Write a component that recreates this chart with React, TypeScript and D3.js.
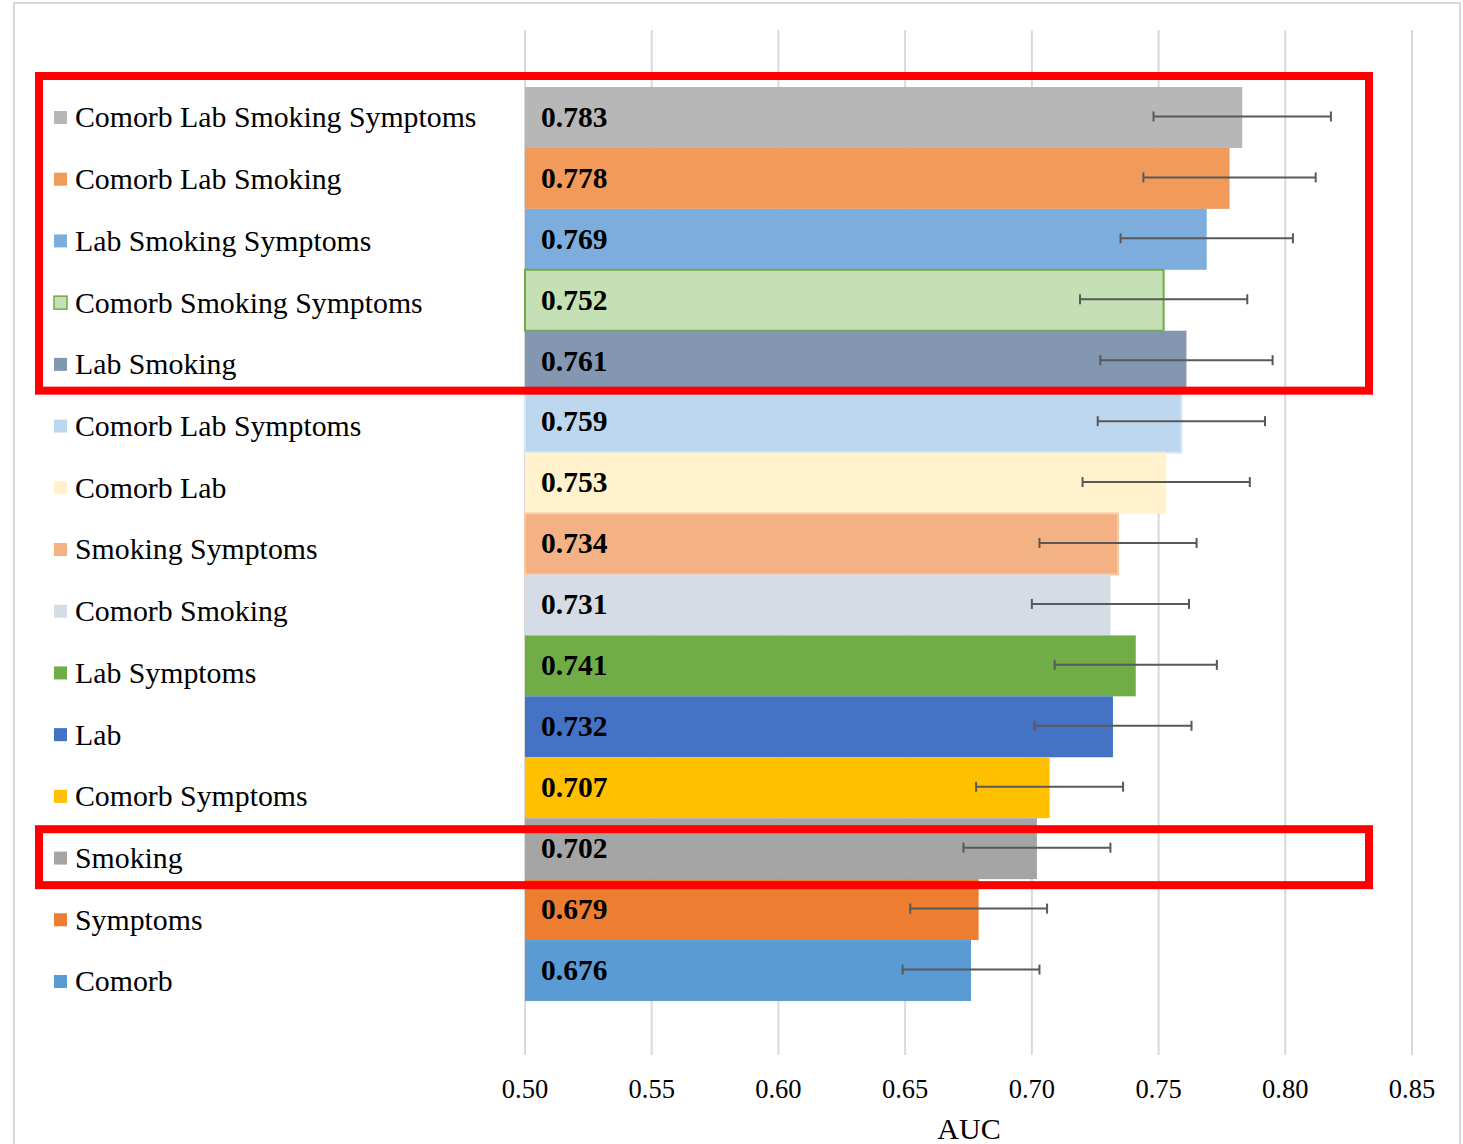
import { scaleBand, scaleLinear, scalePoint } from "d3";

const WIDTH = 1463;
const HEIGHT = 1144;

const models = [
  "Comorb Lab Smoking Symptoms",
  "Comorb Lab Smoking",
  "Lab Smoking Symptoms",
  "Comorb Smoking Symptoms",
  "Lab Smoking",
  "Comorb Lab Symptoms",
  "Comorb Lab",
  "Smoking Symptoms",
  "Comorb Smoking",
  "Lab Symptoms",
  "Lab",
  "Comorb Symptoms",
  "Smoking",
  "Symptoms",
  "Comorb",
];
const auc = [0.783, 0.778, 0.769, 0.752, 0.761, 0.759, 0.753, 0.734, 0.731, 0.741, 0.732, 0.707, 0.702, 0.679, 0.676];
const ciLow = [0.748, 0.744, 0.735, 0.719, 0.727, 0.726, 0.72, 0.703, 0.7, 0.709, 0.701, 0.678, 0.673, 0.652, 0.649];
const ciHigh = [0.818, 0.812, 0.803, 0.785, 0.795, 0.792, 0.786, 0.765, 0.762, 0.773, 0.763, 0.736, 0.731, 0.706, 0.703];
const fills = [
  "#b7b7b7", "#f19a5a", "#7caddc", "#c5e0b4", "#8497b0",
  "#bdd7ee", "#fff2cc", "#f4b183", "#d6dce5", "#70ad47",
  "#4472c4", "#ffc000", "#a5a5a5", "#ed7d31", "#5b9bd5",
];
const strokes = [
  "none", "none", "none", "#70ad47", "none",
  "#d6e6f5", "none", "#f8c9a7", "none", "none",
  "none", "none", "none", "none", "none",
];
const ticks = [0.5, 0.55, 0.6, 0.65, 0.7, 0.75, 0.8, 0.85];
const highlightGroups = [[0, 4], [12, 12]];

const FONT = "'Liberation Serif', 'Times New Roman', serif";

export default function App() {
  const x = scaleLinear().domain([0.5, 0.85]).range([525, 1412]);
  const y = scaleBand<number>()
    .domain(models.map((_, i) => i))
    .range([87, 1001])
    .padding(0);
  const bw = y.bandwidth();
  // legend entries are spaced a little wider than the bars
  const ly = scalePoint<number>()
    .domain(models.map((_, i) => i))
    .range([117, 981]);

  return (
    <svg
      width={WIDTH}
      height={HEIGHT}
      viewBox={`0 0 ${WIDTH} ${HEIGHT}`}
      style={{ position: "absolute", left: 0, top: 0, background: "#fff" }}
      fontFamily={FONT}
    >
      <rect x={14} y={3} width={1446} height={1160} fill="#fff" stroke="#d9d9d9" strokeWidth={2} />

      {ticks.map((t) => (
        <line key={t} x1={x(t)} x2={x(t)} y1={30} y2={1055} stroke="#d9d9d9" strokeWidth={2} />
      ))}

      {models.map((m, i) => (
        <g key={m}>
          <rect
            x={x(0.5)}
            y={y(i)!}
            width={x(auc[i]) - x(0.5)}
            height={bw}
            fill={fills[i]}
            stroke={strokes[i]}
            strokeWidth={strokes[i] === "none" ? 0 : 2}
          />
          <text
            x={541}
            y={y(i)! + bw / 2 - 1}
            dy="0.35em"
            fontSize={29.5}
            fontWeight="bold"
            fill="#000"
          >
            {auc[i].toFixed(3)}
          </text>
          <g stroke="#595959" strokeWidth={2}>
            <line x1={x(ciLow[i])} x2={x(ciHigh[i])} y1={y(i)! + bw / 2 - 1} y2={y(i)! + bw / 2 - 1} />
            <line x1={x(ciLow[i])} x2={x(ciLow[i])} y1={y(i)! + bw / 2 - 6} y2={y(i)! + bw / 2 + 4} />
            <line x1={x(ciHigh[i])} x2={x(ciHigh[i])} y1={y(i)! + bw / 2 - 6} y2={y(i)! + bw / 2 + 4} />
          </g>
          <rect
            x={54}
            y={ly(i)! - 6}
            width={13}
            height={13}
            fill={fills[i]}
            stroke={strokes[i] === "#70ad47" ? "#70ad47" : "none"}
            strokeWidth={1.5}
          />
          <text x={75} y={ly(i)!} dy="0.35em" fontSize={29.8} fill="#000">
            {m}
          </text>
        </g>
      ))}

      {ticks.map((t) => (
        <text key={t} x={x(t)} y={1098} textAnchor="middle" fontSize={26.5} fill="#000">
          {t.toFixed(2)}
        </text>
      ))}
      <text x={969} y={1139} textAnchor="middle" fontSize={30} fill="#000">
        AUC
      </text>

      {highlightGroups.map(([a, b], k) => (
        <rect
          key={k}
          x={39}
          y={y(a)! - (k === 0 ? 11 : -11)}
          width={1330}
          height={y(b)! + bw - y(a)! + (k === 0 ? 10 : -5)}
          fill="none"
          stroke="#ff0000"
          strokeWidth={8}
        />
      ))}
    </svg>
  );
}
